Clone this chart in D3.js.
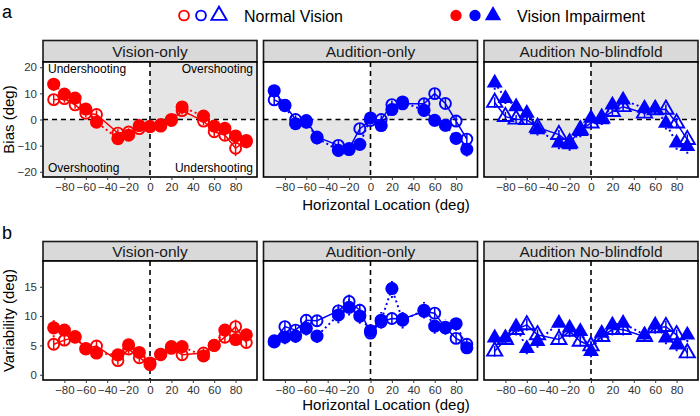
<!DOCTYPE html>
<html><head><meta charset="utf-8">
<script src="https://cdn.jsdelivr.net/npm/d3@7"></script>
<style>body{margin:0;background:#fff}svg{display:block;font-family:"Liberation Sans",Arial,sans-serif}</style>
</head><body><svg id="c" width="700" height="416"></svg>
<script>
const xLoc = [-90,-80,-70,-60,-50,-30,-20,-10,0,10,20,30,50,60,70,80,90];
const conditions = ["Vision-only","Audition-only","Audition No-blindfold"];
const groups = ["Normal Vision","Vision Impairment"];
const xTicks = [-80,-60,-40,-20,0,20,40,60,80];
const biasTicks = [-20,-10,0,10,20];
const varTicks = [0,5,10,15];

// Bias (deg)
const biasVisionNV   = [7.6,8.0,5.6,2.4,1.9,-5.2,-4.8,-3.5,-2.7,-1.9,-0.4,3.4,-0.6,-4.7,-6.0,-11.0,-8.0];
const biasVisionVI   = [13.5,9.7,8.2,4.0,-1.0,-7.3,-6.0,-2.3,-2.7,-2.5,0.0,4.8,1.3,-2.5,-3.4,-6.3,-8.5];
const biasAudNV      = [7.5,5.5,0.0,-0.4,-6.7,-9.9,-11.1,-3.5,-0.4,0.0,5.7,6.0,6.0,9.9,6.1,-0.6,-7.5];
const biasAudVI      = [11.0,5.3,-1.6,-1.0,-7.0,-11.8,-11.5,-9.5,0.6,-2.3,3.8,6.7,3.5,-0.3,-2.2,-7.2,-11.4];
const biasNoBlindNV  = [6.5,1.1,0.1,-0.1,-3.0,-5.8,-9.0,-4.0,-1.4,0.5,3.0,4.9,2.4,3.7,3.9,-1.4,-7.7];
const biasNoBlindVI  = [14.0,8.1,4.9,2.4,-3.9,-9.0,-9.6,-4.6,0.5,-0.1,5.6,7.5,4.3,4.3,-1.4,-9.0,-10.3];
const biasErrVisionNV  = [1.8,1.6,1.5,1.5,1.6,1.5,1.4,1.3,1.2,1.2,1.3,1.5,1.5,1.8,2.0,3.0,2.2];
const biasErrVisionVI  = [2.5,2.0,1.8,1.6,1.8,1.8,1.6,1.5,1.3,1.4,1.5,1.6,1.7,1.9,2.0,2.4,2.5];
const biasErrAudNV     = [2.0,1.8,1.6,1.6,1.8,2.0,2.0,1.8,1.5,1.5,1.6,1.7,1.8,2.0,2.0,2.0,2.2];
const biasErrAudVI     = [2.6,2.2,2.4,2.4,2.6,2.4,2.4,2.2,2.0,2.0,2.4,2.4,2.4,2.4,2.4,2.6,2.8];
const biasErrNoBlindNV = [2.0,1.8,1.6,1.6,1.6,1.8,1.8,1.6,1.5,1.5,1.6,1.6,1.6,1.8,1.8,2.0,2.0];
const biasErrNoBlindVI = [2.6,2.2,2.2,2.2,2.2,2.4,2.4,2.2,2.0,2.0,2.2,2.2,2.2,2.2,2.4,2.6,2.8];

// Variability (deg)
const varVisionNV   = [5.2,5.9,6.4,4.5,4.9,2.4,4.4,2.9,1.7,3.4,4.5,3.4,3.7,5.0,6.4,8.2,5.5];
const varVisionVI   = [8.0,7.6,6.5,4.4,3.7,3.4,5.1,3.8,2.0,3.5,4.8,4.8,3.2,5.0,7.6,6.0,6.8];
const varAudNV      = [5.8,8.2,7.6,9.3,9.2,10.9,12.5,11.0,7.1,9.0,9.6,9.5,10.8,10.5,8.0,6.2,5.2];
const varAudVI      = [5.6,6.4,6.6,7.9,6.6,10.2,11.5,10.0,7.5,9.3,14.7,9.3,11.0,8.3,8.1,8.7,4.6];
const varNoBlindNV  = [4.0,6.0,7.7,8.5,6.8,6.0,7.4,5.7,4.9,6.5,7.7,7.7,6.5,8.0,8.2,6.8,3.7];
const varNoBlindVI  = [6.3,6.3,8.2,4.5,5.7,8.8,8.0,7.4,4.0,7.1,8.5,8.8,6.8,8.5,6.3,5.1,6.8];
const varErrVisionNV  = [1.0,0.9,0.8,0.8,0.9,0.7,0.8,0.7,0.6,0.7,0.8,0.8,0.8,0.8,1.0,1.2,1.1];
const varErrVisionVI  = [1.6,1.0,0.9,0.8,0.8,0.8,0.9,0.8,0.7,0.8,0.8,0.8,0.8,0.9,1.0,1.0,1.1];
const varErrAudNV     = [0.9,1.0,1.0,1.0,1.0,1.1,1.2,1.1,0.9,1.0,1.0,1.0,1.0,1.0,1.0,0.9,0.9];
const varErrAudVI     = [1.0,1.2,1.2,1.2,1.2,1.4,1.4,1.3,1.2,1.4,1.6,1.4,1.4,1.3,1.3,1.2,1.0];
const varErrNoBlindNV = [0.9,0.9,1.0,1.0,0.9,0.9,1.0,0.9,0.9,0.9,1.0,1.0,0.9,1.0,1.0,0.9,0.9];
const varErrNoBlindVI = [1.1,1.1,1.2,1.0,1.1,1.3,1.2,1.2,1.0,1.2,1.3,1.3,1.1,1.2,1.1,1.1,1.2];

const colors = ["#ff0000","#0000ff","#0000ff"];
const shapes = ["circle","circle","triangle"];

const biasData = [[biasVisionNV,biasVisionVI],[biasAudNV,biasAudVI],[biasNoBlindNV,biasNoBlindVI]];
const biasErr  = [[biasErrVisionNV,biasErrVisionVI],[biasErrAudNV,biasErrAudVI],[biasErrNoBlindNV,biasErrNoBlindVI]];
const varData  = [[varVisionNV,varVisionVI],[varAudNV,varAudVI],[varNoBlindNV,varNoBlindVI]];
const varErr   = [[varErrVisionNV,varErrVisionVI],[varErrAudNV,varErrAudVI],[varErrNoBlindNV,varErrNoBlindVI]];

const svg = d3.select("#c");
const panelLeft = [43, 263.5, 484];
const panelW = 214;
const rows = [
  {stripTop:40.5, plotTop:62, plotBot:177, dom:[-22,22], ticks:biasTicks, data:biasData, err:biasErr, bias:true, title:"Bias (deg)", xTitleY:210},
  {stripTop:241.5, plotTop:261, plotBot:380, dom:[-0.9,19.4], ticks:varTicks, data:varData, err:varErr, bias:false, title:"Variability (deg)", xTitleY:410}
];

function symPath(shape, filled){
  if(shape==="circle") return d3.symbol(d3.symbolCircle, filled?135:95)();
  return d3.symbol(d3.symbolTriangle, filled?110:100)();
}

rows.forEach((row)=>{
  const y = d3.scaleLinear().domain(row.dom).range([row.plotBot,row.plotTop]);
  conditions.forEach((cond,ci)=>{
    const L = panelLeft[ci];
    const x = d3.scaleLinear().domain([-100,100]).range([L,L+panelW]);
    const g = svg.append("g");
    g.append("rect").attr("x",L).attr("y",row.stripTop).attr("width",panelW).attr("height",row.plotTop-row.stripTop)
      .attr("fill","#d9d9d9").attr("stroke","#1a1a1a").attr("stroke-width",1.6);
    g.append("text").attr("x",L+panelW/2).attr("y",(row.stripTop+row.plotTop)/2+5.5).attr("text-anchor","middle")
      .attr("font-size",15.5).attr("fill","#1a1a1a").text(cond);
    g.append("rect").attr("x",L).attr("y",row.plotTop).attr("width",panelW).attr("height",row.plotBot-row.plotTop).attr("fill","#fff");
    if(row.bias){
      g.append("rect").attr("x",x(0)).attr("y",row.plotTop).attr("width",x(100)-x(0)).attr("height",y(0)-row.plotTop).attr("fill","#e5e5e5");
      g.append("rect").attr("x",L).attr("y",y(0)).attr("width",x(0)-L).attr("height",row.plotBot-y(0)).attr("fill","#e5e5e5");
    }
    g.append("line").attr("x1",x(0)).attr("x2",x(0)).attr("y1",row.plotTop).attr("y2",row.plotBot)
      .attr("stroke","#000").attr("stroke-width",1.6).attr("stroke-dasharray","5,4");
    if(row.bias){
      g.append("line").attr("x1",L).attr("x2",L+panelW).attr("y1",y(0)).attr("y2",y(0))
        .attr("stroke","#000").attr("stroke-width",1.6).attr("stroke-dasharray","5,4");
    }
    if(row.bias && ci===0){
      const a = [["Undershooting",L+5,73,"start"],["Overshooting",L+panelW-4,73,"end"],["Overshooting",L+5,172,"start"],["Undershooting",L+panelW-4,172,"end"]];
      a.forEach(t=>g.append("text").attr("x",t[1]).attr("y",t[2]).attr("text-anchor",t[3]).attr("font-size",12).attr("fill","#000").text(t[0]));
    }
    const col = colors[ci];
    [0,1].forEach(gi=>{
      const vals = row.data[ci][gi], errs = row.err[ci][gi];
      const pts = xLoc.map((d,i)=>({x:d,y:vals[i],e:errs[i]}));
      const filled = gi===1;
      const dash = filled ? "2,3" : null;
      g.append("path").datum(pts).attr("fill","none").attr("stroke",col).attr("stroke-width",filled?2:1.5)
        .attr("stroke-dasharray",dash).attr("d",d3.line().x(d=>x(d.x)).y(d=>y(d.y)));
      g.selectAll(null).data(pts).enter().append("line")
        .attr("x1",d=>x(d.x)).attr("x2",d=>x(d.x)).attr("y1",d=>y(d.y-d.e)).attr("y2",d=>y(d.y+d.e))
        .attr("stroke",col).attr("stroke-width",filled?2:1.5).attr("stroke-dasharray",dash);
      g.selectAll(null).data(pts).enter().append("path")
        .attr("transform",d=>`translate(${x(d.x)},${y(d.y)})`)
        .attr("d",symPath(shapes[ci],filled))
        .attr("fill",filled?col:"none").attr("stroke",col).attr("stroke-width",filled?0:1.9);
    });
    g.append("rect").attr("x",L).attr("y",row.plotTop).attr("width",panelW).attr("height",row.plotBot-row.plotTop)
      .attr("fill","none").attr("stroke","#000").attr("stroke-width",1.6);
    const xa = g.append("g").attr("transform",`translate(0,${row.plotBot})`)
      .call(d3.axisBottom(x).tickValues(xTicks).tickSize(3).tickPadding(3).tickFormat(d=>String(d).replace("-","\u2212")));
    xa.select(".domain").remove();
    xa.selectAll("line").attr("stroke","#333");
    xa.selectAll("text").attr("font-size",11.5).attr("fill","#333").attr("font-family","Liberation Sans, Arial, sans-serif");
    if(ci===0){
      const ya = g.append("g").attr("transform",`translate(${L},0)`)
        .call(d3.axisLeft(y).tickValues(row.ticks).tickSize(3).tickPadding(3).tickFormat(d=>String(d).replace("-","\u2212")));
      ya.select(".domain").remove();
      ya.selectAll("line").attr("stroke","#333");
      ya.selectAll("text").attr("font-size",11.5).attr("fill","#333").attr("font-family","Liberation Sans, Arial, sans-serif");
    }
  });
  svg.append("text").attr("x",386).attr("y",row.xTitleY).attr("text-anchor","middle").attr("font-size",15).attr("fill","#000").text("Horizontal Location (deg)");
  const cy = (row.plotTop+row.plotBot)/2;
  svg.append("text").attr("transform",`translate(14,${cy}) rotate(-90)`).attr("text-anchor","middle").attr("font-size",15).attr("fill","#000").text(row.title);
});

svg.append("text").attr("x",2).attr("y",18).attr("font-size",18).text("a");
svg.append("text").attr("x",2).attr("y",239).attr("font-size",18).text("b");

const legendItems = [
  {label:groups[0], filled:false, xs:[184,201,219], tx:244, w:99},
  {label:groups[1], filled:true, xs:[456,475,493], tx:517, w:128}
];
legendItems.forEach(it=>{
  it.xs.forEach((lx,k)=>{
    svg.append("path").attr("transform",`translate(${lx},15.5)`)
      .attr("d",k<2 ? d3.symbol(d3.symbolCircle, it.filled?100:75)() : d3.symbol(d3.symbolTriangle, it.filled?115:100)())
      .attr("fill",it.filled?colors[k]:"none").attr("stroke",colors[k]).attr("stroke-width",it.filled?0:1.9);
  });
  svg.append("text").attr("x",it.tx).attr("y",21.5).attr("font-size",17).attr("fill","#000")
    .attr("textLength",it.w).attr("lengthAdjust","spacingAndGlyphs").text(it.label);
});
</script></body></html>
